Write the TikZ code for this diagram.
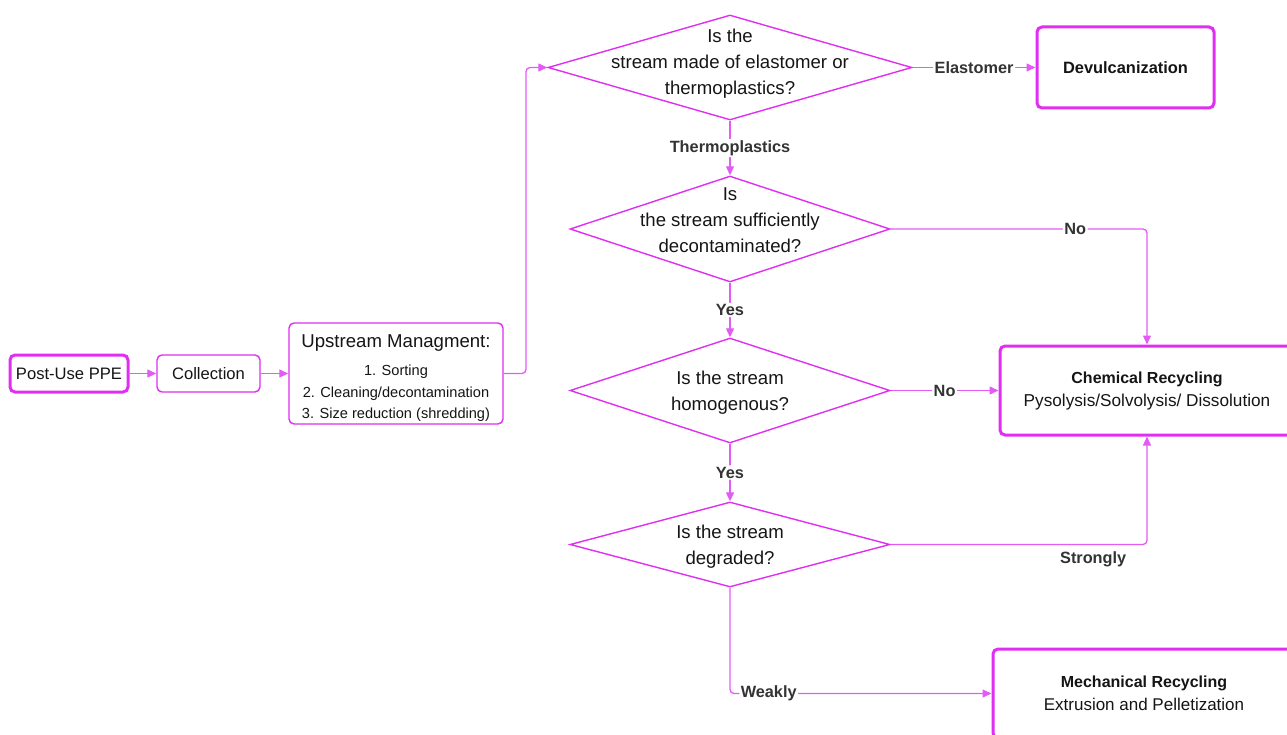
\documentclass[tikz,border=0pt]{standalone}
\usepackage{fontspec}
\setmainfont{Liberation Sans}
\usetikzlibrary{arrows.meta,shapes.geometric}
\definecolor{mag}{HTML}{E02EF2}
\definecolor{lnk}{HTML}{E45AF5}
\definecolor{lbl}{HTML}{333333}
\definecolor{txt}{HTML}{151515}
\begin{document}
\begin{tikzpicture}[x=1pt,y=-1pt,
  thinbox/.style={draw=mag, line width=1.4pt, rounded corners=5pt, fill=white, align=center, inner sep=0pt, text=txt},
  thickbox/.style={thinbox, line width=3pt},
  dia/.style={draw=mag, line width=1.4pt, shape=diamond, inner sep=0pt, minimum width=#1},
  dtext/.style={align=center, text=txt, font=\fontsize{18.6}{26}\selectfont},
  link/.style={draw=lnk, line width=1.3pt, rounded corners=4pt, -{Triangle[length=9pt,width=8pt]}},
  lab/.style={fill=white, text=lbl, inner sep=1.5pt, font=\bfseries\fontsize{16.3}{18}\selectfont}
]
\useasboundingbox (0,0) rectangle (1287,735);

% left chain
\node[thickbox, minimum width=118, minimum height=37, font=\fontsize{16.6}{20}\selectfont] (ppe) at (69,373.5) {Post-Use PPE};
\node[thinbox, minimum width=103, minimum height=37, font=\fontsize{16.6}{20}\selectfont] (coll) at (208.5,373.5) {Collection};
\node[thinbox, minimum width=214, minimum height=101, font=\fontsize{14.6}{21.5}\selectfont] (up) at (396,373.5)
  {\rule{0pt}{23pt}{\fontsize{18.6}{22}\selectfont Upstream Managment:}\\[6.5pt]
   1. Sorting\\ 2. Cleaning/decontamination\\ 3. Size reduction (shredding)};

% diamonds
\node[dia=364, minimum height=105, label={[dtext, yshift=4pt]center:{Is the\\ stream made of elastomer or\\ thermoplastics?}}] (d1) at (730,67.5) {};
\node[dia=320, minimum height=106, label={[dtext, yshift=9pt]center:{Is\\ the stream sufficiently\\ decontaminated?}}] (d2) at (730,229) {};
\node[dia=320, minimum height=105, label={[dtext, yshift=-2pt]center:{Is the stream\\ homogenous?}}] (d3) at (730,390.5) {};
\node[dia=320, minimum height=85, label={[dtext, yshift=-2pt]center:{Is the stream\\ degraded?}}] (d4) at (730,544.5) {};

% outcome boxes
\node[thickbox, minimum width=177, minimum height=81, font=\bfseries\fontsize{16.4}{20}\selectfont] (dev) at (1125.5,67.5) {Devulcanization};
\node[thickbox, minimum width=294, minimum height=89, font=\bfseries\fontsize{16}{23}\selectfont] (chem) at (1147,390.5)
  {Chemical Recycling\\
   \mdseries\fontsize{17.2}{23}\selectfont Pysolysis/Solvolysis/ Dissolution};
\node[thickbox, minimum width=302, minimum height=89, font=\bfseries\fontsize{16}{23}\selectfont] (mech) at (1144,693.5)
  {Mechanical Recycling\\
   \mdseries\fontsize{17}{23}\selectfont Extrusion and Pelletization};

\coordinate (j1) at (526,0);

% connectors
\draw[link] (ppe) -- (coll);
\draw[link] (coll) -- (up.west |- coll);
\draw[link] (up.east |- coll) -- (j1 |- coll) |- (d1.west);
\draw[link] (d1.east) -- node[lab]{Elastomer} (dev.west);
\draw[link] (d1.south) -- node[lab]{Thermoplastics} (d2.north);
\draw[link] (d2.east) -| node[lab, pos=0.36]{No} (chem.north);
\draw[link] (d2.south) -- node[lab]{Yes} (d3.north);
\draw[link] (d3.east) -- node[lab]{No} (chem.west);
\draw[link] (d3.south) -- node[lab]{Yes} (d4.north);
\draw[link] (d4.east) -| node[lab, pos=0.395, anchor=north, yshift=-5pt]{Strongly} (chem.south);
\draw[link] (d4.south) |- node[lab, pos=0.574]{Weakly} (mech.west);
\end{tikzpicture}
\end{document}
